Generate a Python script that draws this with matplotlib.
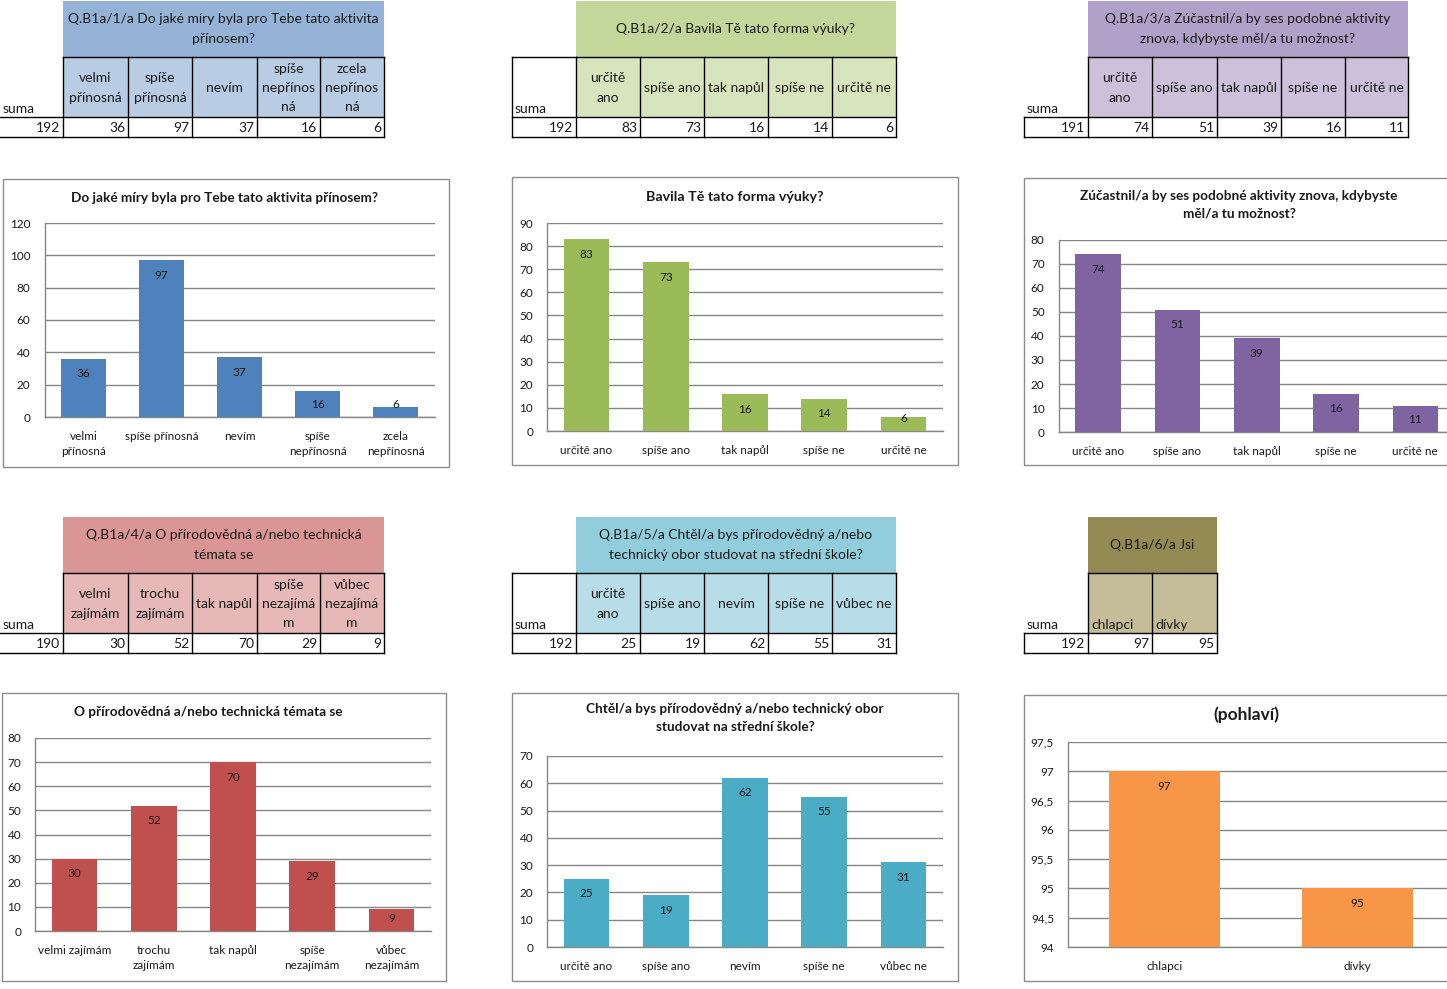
import matplotlib
matplotlib.use('Agg')
import matplotlib.pyplot as plt
from matplotlib.patches import Rectangle
from matplotlib.lines import Line2D
from matplotlib.ticker import FuncFormatter

plt.rcParams['font.family'] = ['Lato', 'DejaVu Sans']

# ---------------- data ----------------
t1_title = "Q.B1a/1/a Do jaké míry byla pro Tebe tato aktivita\npřínosem?"
t1_heads = ["velmi\npřínosná", "spíše\npřínosná", "nevím", "spíše\nnepřínos\nná", "zcela\nnepřínos\nná"]
t1_total = 192
t1_values = [36, 97, 37, 16, 6]
c1_title = "Do jaké míry byla pro Tebe tato aktivita přínosem?"
c1_cats = ["velmi\npřínosná", "spíše přínosná", "nevím", "spíše\nnepřínosná", "zcela\nnepřínosná"]

t2_title = "Q.B1a/2/a Bavila Tě tato forma výuky?"
t2_heads = ["určitě\nano", "spíše ano", "tak napůl", "spíše ne", "určitě ne"]
t2_total = 192
t2_values = [83, 73, 16, 14, 6]
c2_title = "Bavila Tě tato forma výuky?"
c2_cats = ["určitě ano", "spíše ano", "tak napůl", "spíše ne", "určitě ne"]

t3_title = "Q.B1a/3/a Zúčastnil/a by ses podobné aktivity\nznova, kdybyste měl/a tu možnost?"
t3_heads = ["určitě\nano", "spíše ano", "tak napůl", "spíše ne", "určitě ne"]
t3_total = 191
t3_values = [74, 51, 39, 16, 11]
c3_title = "Zúčastnil/a by ses podobné aktivity znova, kdybyste\nměl/a tu možnost?"
c3_cats = ["určitě ano", "spíše ano", "tak napůl", "spíše ne", "určitě ne"]

t4_title = "Q.B1a/4/a O přírodovědná a/nebo technická\ntémata se"
t4_heads = ["velmi\nzajímám", "trochu\nzajímám", "tak napůl", "spíše\nnezajímá\nm", "vůbec\nnezajímá\nm"]
t4_total = 190
t4_values = [30, 52, 70, 29, 9]
c4_title = "O přírodovědná a/nebo technická témata se"
c4_cats = ["velmi zajímám", "trochu\nzajímám", "tak napůl", "spíše\nnezajímám", "vůbec\nnezajímám"]

t5_title = "Q.B1a/5/a Chtěl/a bys přírodovědný a/nebo\ntechnický obor studovat na střední škole?"
t5_heads = ["určitě\nano", "spíše ano", "nevím", "spíše ne", "vůbec ne"]
t5_total = 192
t5_values = [25, 19, 62, 55, 31]
c5_title = "Chtěl/a bys přírodovědný a/nebo technický obor\nstudovat na střední škole?"
c5_cats = ["určitě ano", "spíše ano", "nevím", "spíše ne", "vůbec ne"]

t6_title = "Q.B1a/6/a Jsi"
t6_heads = ["chlapci", "dívky"]
t6_total = 192
t6_values = [97, 95]
c6_title = "(pohlaví)"
c6_cats = ["chlapci", "dívky"]

# ---------------- layout helpers ----------------
W, H = 1447, 989
fig = plt.figure(figsize=(W / 100, H / 100), dpi=100)
fig.patch.set_facecolor('white')


def fx(x):
    return x / W


def fy(y):
    return 1 - y / H


def hline(x0, x1, y, color='black', lw=1.0):
    fig.add_artist(Line2D([fx(x0), fx(x1)], [fy(y), fy(y)], color=color, lw=lw,
                          transform=fig.transFigure))


def vline(x, y0, y1, color='black', lw=1.0):
    fig.add_artist(Line2D([fx(x), fx(x)], [fy(y0), fy(y1)], color=color, lw=lw,
                          transform=fig.transFigure))


def rect(x0, y0, x1, y1, fc, ec='none', lw=0):
    fig.add_artist(Rectangle((fx(x0), fy(y1)), (x1 - x0) / W, (y1 - y0) / H,
                             facecolor=fc, edgecolor=ec, lw=lw, transform=fig.transFigure))


TFS = 10.0
TLS = 1.72


def draw_table(edges, ytop, title, heads, total, values, hcol, scol, style, head_align='center'):
    # header block
    rect(edges[1], ytop, edges[-1], ytop + 56, hcol)
    fig.text(fx((edges[1] + edges[-1]) / 2), fy(ytop + 28), title, ha='center', va='center',
             fontsize=TFS, linespacing=TLS, color='#1a1a1a')
    # sub header cells
    for i, h in enumerate(heads):
        x0, x1 = edges[i + 1], edges[i + 2]
        rect(x0, ytop + 56, x1, ytop + 116, scol)
        if head_align == 'center':
            fig.text(fx((x0 + x1) / 2), fy(ytop + 87), h, ha='center', va='center',
                     fontsize=TFS, linespacing=TLS, color='#1a1a1a')
        else:
            fig.text(fx(x0 + 3), fy(ytop + 108), h, ha='left', va='center',
                     fontsize=TFS, color='#1a1a1a')
    # borders of header cells
    hline(edges[1], edges[-1], ytop + 56)
    for e in edges[1:]:
        vline(e, ytop + 56, ytop + 136)
    # data row
    hline(edges[0], edges[-1], ytop + 116)
    hline(edges[0], edges[-1], ytop + 136)
    if style == 'box':
        hline(edges[0], edges[1], ytop + 56)
        vline(edges[0], ytop + 56, ytop + 136)
    elif style == 'data':
        vline(edges[0], ytop + 116, ytop + 136)
    fig.text(fx(edges[0] + 3), fy(ytop + 108), "suma", ha='left', va='center',
             fontsize=TFS, color='#1a1a1a')
    fig.text(fx(edges[1] - 3), fy(ytop + 127), str(total), ha='right', va='center',
             fontsize=TFS, color='#1a1a1a')
    for i, v in enumerate(values):
        fig.text(fx(edges[i + 2] - 3), fy(ytop + 127), str(v), ha='right', va='center',
                 fontsize=TFS, color='#1a1a1a')


L_EDGES = [0, 63, 128, 192, 257, 320, 384]
M_EDGES = [512, 576, 640, 704, 768, 832, 896]
R_EDGES = [1024, 1088, 1152, 1217, 1281, 1345, 1408]

draw_table(L_EDGES, 1, t1_title, t1_heads, t1_total, t1_values, '#95B3D7', '#B8CCE4', 'none')
draw_table(M_EDGES, 1, t2_title, t2_heads, t2_total, t2_values, '#C4D79B', '#D8E4BC', 'box')
draw_table(R_EDGES, 1, t3_title, t3_heads, t3_total, t3_values, '#B1A0C7', '#CCC0DA', 'data')
draw_table(L_EDGES, 517, t4_title, t4_heads, t4_total, t4_values, '#DA9694', '#E6B8B7', 'none')
draw_table(M_EDGES, 517, t5_title, t5_heads, t5_total, t5_values, '#92CDDC', '#B7DEE8', 'box')
draw_table(R_EDGES[:4], 517, t6_title, t6_heads, t6_total, t6_values, '#948A54', '#C4BD97', 'data',
           head_align='left')

GRID = '#868686'


def draw_chart(frame, plot, title, title_xy, cats, values, color, ylim, ystep,
               title_fs=9.8, comma=False):
    fx0, fy0, fx1, fy1 = frame
    rect(fx0, fy0, fx1, fy1, 'none', ec='#8c8c8c', lw=1.0)
    fig.text(fx(title_xy[0]), fy(title_xy[1]), title, ha='center', va='center',
             fontsize=title_fs, fontweight='bold', linespacing=1.55, color='#1a1a1a')
    px0, py0, px1, py1 = plot
    ax = fig.add_axes([fx(px0), fy(py1), (px1 - px0) / W, (py1 - py0) / H])
    ax.set_facecolor('none')
    xs = list(range(len(values)))
    ax.bar(xs, values, width=0.575, color=color, zorder=3)
    ax.set_xlim(-0.5, len(values) - 0.5)
    ax.set_ylim(*ylim)
    ticks = []
    t = ylim[0]
    while t <= ylim[1] + 1e-9:
        ticks.append(t)
        t += ystep
    ax.set_yticks(ticks)
    if comma:
        ax.yaxis.set_major_formatter(FuncFormatter(
            lambda v, p: (f"{v:g}").replace('.', ',')))
    ax.set_xticks(xs)
    ax.set_xticklabels(cats, fontsize=8.5, linespacing=1.5, color='#1a1a1a')
    ax.tick_params(axis='both', length=0, labelsize=8.5, colors='#1a1a1a')
    ax.tick_params(axis='x', pad=10)
    ax.tick_params(axis='y', pad=10)
    ax.yaxis.grid(True, color=GRID, lw=1.0, zorder=0)
    ax.set_axisbelow(True)
    for s in ['top', 'right']:
        ax.spines[s].set_visible(False)
    for s in ['left', 'bottom']:
        ax.spines[s].set_color(GRID)
        ax.spines[s].set_linewidth(1.0)
    ppu = (py1 - py0) / (ylim[1] - ylim[0])
    for x, v in zip(xs, values):
        hpx = (v - ylim[0]) * ppu
        off = max(hpx - 15, 13)
        ax.annotate(str(v), xy=(x, ylim[0]), xytext=(0, off), textcoords='offset pixels',
                    ha='center', va='center', fontsize=8.5, color='#1a1a1a', zorder=4,
                    annotation_clip=False)
    return ax


draw_chart((3, 179, 449, 467), (44.5, 223, 434.5, 417), c1_title, (224.5, 198),
           c1_cats, t1_values, '#4F81BD', (0, 120), 20)
draw_chart((512, 177, 958, 465), (547, 223, 943, 431), c2_title, (735, 197),
           c2_cats, t2_values, '#9BBB59', (0, 90), 10, title_fs=10.3)
draw_chart((1024, 178, 1470, 465), (1058.5, 240, 1455, 432), c3_title, (1239, 205),
           c3_cats, t3_values, '#8064A2', (0, 80), 10)
draw_chart((2, 693, 446, 981), (35, 738, 431, 931), c4_title, (208, 712),
           c4_cats, t4_values, '#C0504D', (0, 80), 10)
draw_chart((512, 693, 958, 981), (547, 756, 943, 947), c5_title, (735, 718),
           c5_cats, t5_values, '#4BACC6', (0, 70), 10)
draw_chart((1024, 695, 1470, 981), (1068, 742, 1454, 947), c6_title, (1246, 715),
           c6_cats, t6_values, '#F79646', (94, 97.5), 0.5, title_fs=12.5, comma=True)

fig.savefig('out.png', dpi=100, facecolor='white')
